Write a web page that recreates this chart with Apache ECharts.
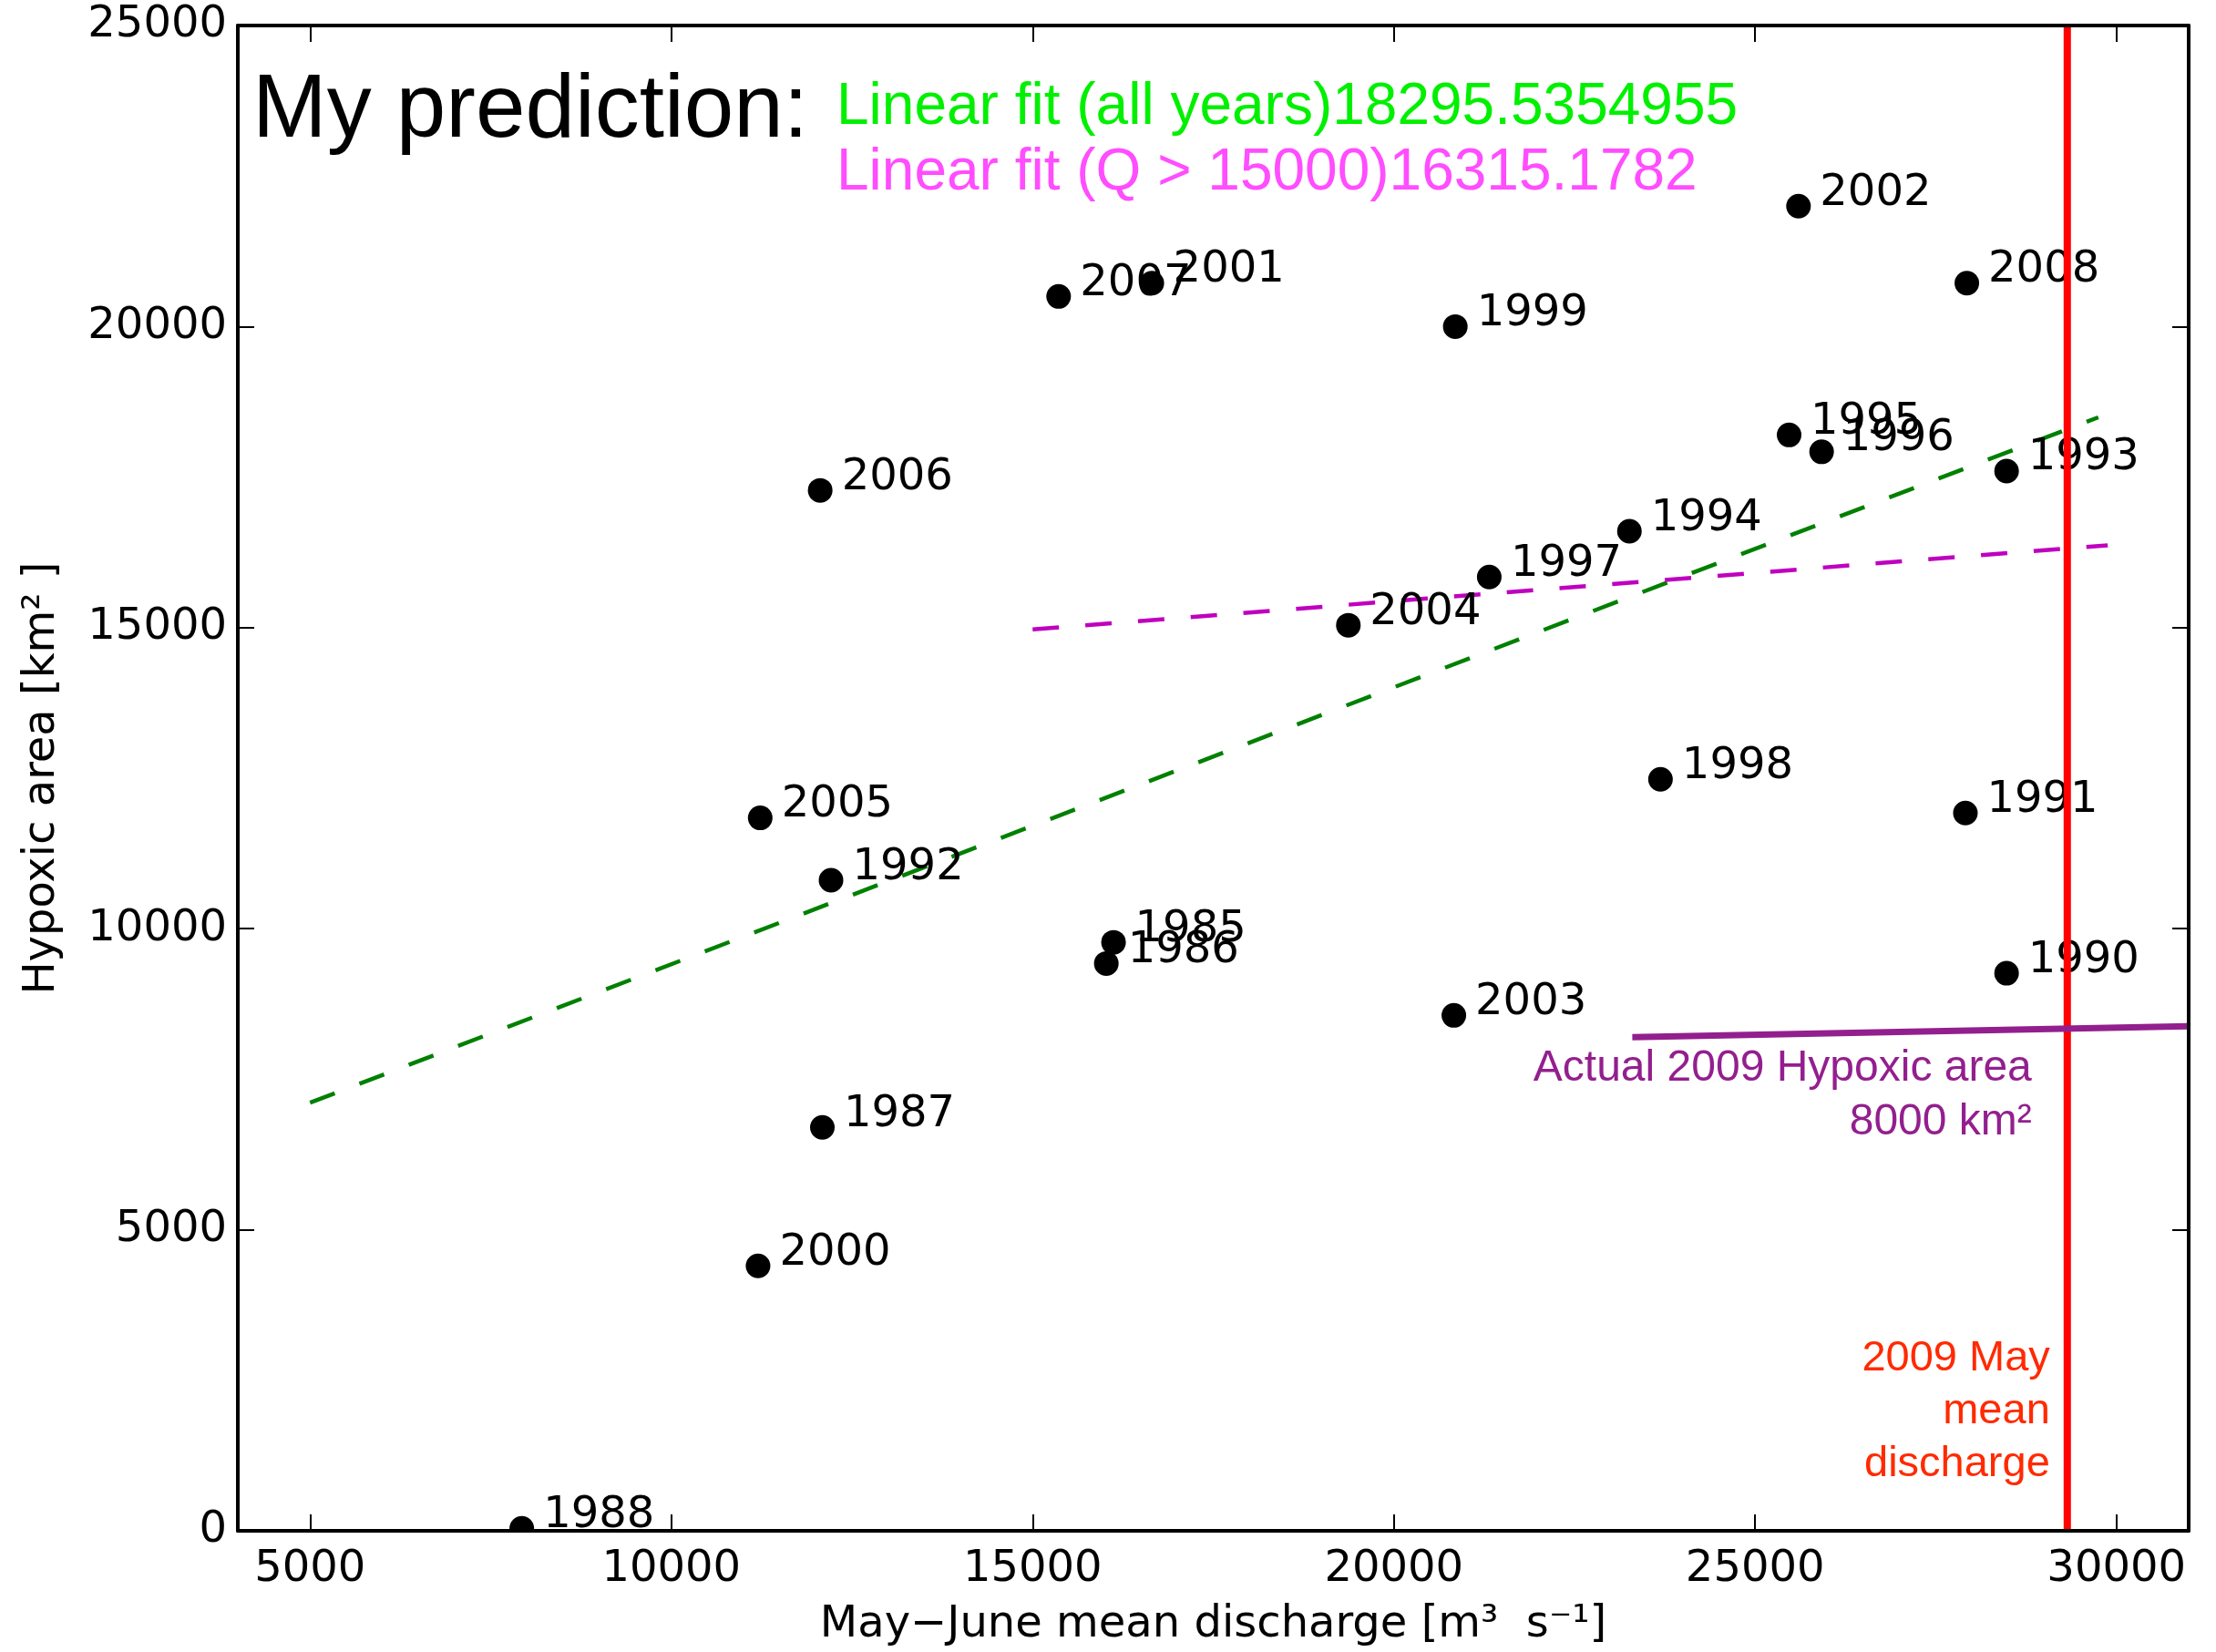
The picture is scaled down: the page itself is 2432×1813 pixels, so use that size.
<!DOCTYPE html>
<html>
<head>
<meta charset="utf-8">
<script src="https://cdn.jsdelivr.net/npm/echarts@6/dist/echarts.min.js"></script>
<style>
  html, body { margin: 0; padding: 0; background: #ffffff; }
  #chart { width: 2432px; height: 1813px; }
</style>
</head>
<body>
<div id="chart"></div>
<script>
// Gulf of Mexico hypoxic zone vs. May–June river discharge, 1985–2008
const years = [1985, 1986, 1987, 1988, 1990, 1991, 1992, 1993, 1994, 1995, 1996, 1997,
               1998, 1999, 2000, 2001, 2002, 2003, 2004, 2005, 2006, 2007, 2008];
const discharge = [16120, 16020, 12090, 7930, 28480, 27910, 12210, 28480, 23260, 25470, 25920, 21320,
                   23690, 20850, 11200, 16650, 25600, 20830, 19370, 11230, 12060, 15360, 27930];
const hypoxicArea = [9774, 9422, 6700, 40, 9260, 11920, 10804, 17600, 16600, 18200, 17920, 15840,
                     12480, 20000, 4400, 20720, 22000, 8560, 15040, 11840, 17280, 20500, 20720];

const xTicks = [5000, 10000, 15000, 20000, 25000, 30000];
const yTicks = [0, 5000, 10000, 15000, 20000, 25000];

// regression lines (end points)
const fitAllQ = [5000, 29750];
const fitAllArea = [7110, 18493];
const fitHighQ = [15000, 29880];
const fitHighArea = [14970, 16368];

// observed 2009 area marker and 2009 May mean discharge
const actual2009Q = [23300, 31000];
const actual2009Area = [8200, 8380];
const may2009Q = 29320;

const predictionAll = '18295.5354955';
const predictionHigh = '16315.1782';

const pairs = (xs, ys) => xs.map((x, i) => [x, ys[i]]);

const chart = echarts.init(document.getElementById('chart'), null, { renderer: 'canvas' });

const tickFont = { fontFamily: 'DejaVu Sans', fontSize: 48, color: '#000' };
const spine = { show: true, onZero: false, lineStyle: { color: '#000', width: 4 } };
const plain = v => String(v);

function xAxisDef(pos, withLabels) {
  return {
    type: 'value', position: pos, min: 4000, max: 31000, z: 10,
    axisLine: spine,
    axisTick: { show: true, inside: true, length: 18, customValues: xTicks, lineStyle: { color: '#000', width: 2 } },
    axisLabel: Object.assign({ show: withLabels, customValues: xTicks, margin: 19, formatter: plain }, tickFont),
    splitLine: { show: false }
  };
}
function yAxisDef(pos, withLabels) {
  return {
    type: 'value', position: pos, min: 0, max: 25000, z: 10,
    axisLine: spine,
    axisTick: { show: true, inside: true, length: 18, customValues: yTicks, lineStyle: { color: '#000', width: 2 } },
    axisLabel: Object.assign({ show: withLabels, customValues: yTicks, margin: 12, formatter: plain }, tickFont),
    splitLine: { show: false }
  };
}

const xBottom = Object.assign(xAxisDef('bottom', true), {
  name: 'May\u2212June mean discharge [m\u00b3  s\u207b\u00b9]',
  nameLocation: 'middle', nameGap: 80,
  nameTextStyle: { fontFamily: 'DejaVu Sans', fontSize: 48, color: '#000' }
});
const yLeft = Object.assign(yAxisDef('left', true), {
  name: 'Hypoxic area [km\u00b2 ]',
  nameLocation: 'middle', nameGap: 190,
  nameTextStyle: { fontFamily: 'DejaVu Sans', fontSize: 48, color: '#000' }
});

const option = {
  animation: false,
  backgroundColor: '#ffffff',
  grid: { left: 261, right: 30, top: 28, bottom: 127, containLabel: false },
  xAxis: [xBottom, xAxisDef('top', false)],
  yAxis: [yLeft, yAxisDef('right', false)],
  series: [
    {
      type: 'scatter', name: 'Hypoxic area', z: 2,
      xAxisIndex: 0, yAxisIndex: 0,
      data: years.map((y, i) => [discharge[i], hypoxicArea[i], y]),
      symbol: 'circle', symbolSize: 27,
      itemStyle: { color: '#000', opacity: 1 },
      label: {
        show: true, position: 'right', distance: 10, offset: [0, -14],
        formatter: p => String(p.value[2]),
        fontFamily: 'DejaVu Sans', fontSize: 48, color: '#000', opacity: 1
      },
      emphasis: { disabled: true }
    },
    {
      type: 'line', name: 'Linear fit (all years)', z: 2,
      data: pairs(fitAllQ, fitAllArea), symbol: 'none',
      lineStyle: { color: '#008000', width: 4.5, type: [29, 29] },
      emphasis: { disabled: true }
    },
    {
      type: 'line', name: 'Linear fit (Q > 15000)', z: 2,
      data: pairs(fitHighQ, fitHighArea), symbol: 'none',
      lineStyle: { color: '#bf00bf', width: 4.5, type: [29, 29] },
      emphasis: { disabled: true }
    },
    {
      type: 'line', name: '2009 May mean discharge', z: 3,
      data: [[may2009Q, 0], [may2009Q, 25000]], symbol: 'none',
      lineStyle: { color: '#ff0000', width: 8 },
      emphasis: { disabled: true }
    },
    {
      type: 'line', name: 'Actual 2009 Hypoxic area', z: 4,
      data: pairs(actual2009Q, actual2009Area), symbol: 'none',
      lineStyle: { color: '#931f8e', width: 7 },
      emphasis: { disabled: true }
    }
  ]
};

chart.setOption(option);

// annotations placed from the axes' pixel mapping
const redX = chart.convertToPixel({ xAxisIndex: 0 }, may2009Q);
const bottomY = chart.convertToPixel({ yAxisIndex: 0 }, 0);

chart.setOption({
  graphic: [
    { // hides marks spilling below the plot frame
      type: 'rect', z: 5, silent: true,
      shape: { x: 0, y: bottomY + 2, width: 2432, height: 1813 - bottomY },
      style: { fill: '#ffffff' }
    },
    {
      type: 'text', z: 20, x: 277, y: 123,
      style: { text: 'My prediction:', font: '98px "Liberation Sans", Arial, sans-serif', fill: '#000', verticalAlign: 'middle' }
    },
    {
      type: 'text', z: 20, x: 918, y: 118,
      style: { text: 'Linear fit (all years)' + predictionAll, font: '64px "Liberation Sans", Arial, sans-serif', fill: '#00f000', verticalAlign: 'middle' }
    },
    {
      type: 'text', z: 20, x: 918, y: 190,
      style: { text: 'Linear fit (Q > 15000)' + predictionHigh, font: '64px "Liberation Sans", Arial, sans-serif', fill: '#ff4dff', verticalAlign: 'middle' }
    },
    {
      type: 'text', z: 20, x: redX - 19, y: 1462,
      style: { text: '2009 May\nmean\ndischarge', font: '47px "Liberation Sans", Arial, sans-serif', fill: '#ff2a00', align: 'right', verticalAlign: 'top', lineHeight: 58 }
    },
    {
      type: 'text', z: 20, x: redX - 39, y: 1143,
      style: { text: 'Actual 2009 Hypoxic area\n8000 km\u00b2', font: '48px "Liberation Sans", Arial, sans-serif', fill: '#931f8e', align: 'right', verticalAlign: 'top', lineHeight: 59 }
    }
  ]
});
</script>
</body>
</html>
